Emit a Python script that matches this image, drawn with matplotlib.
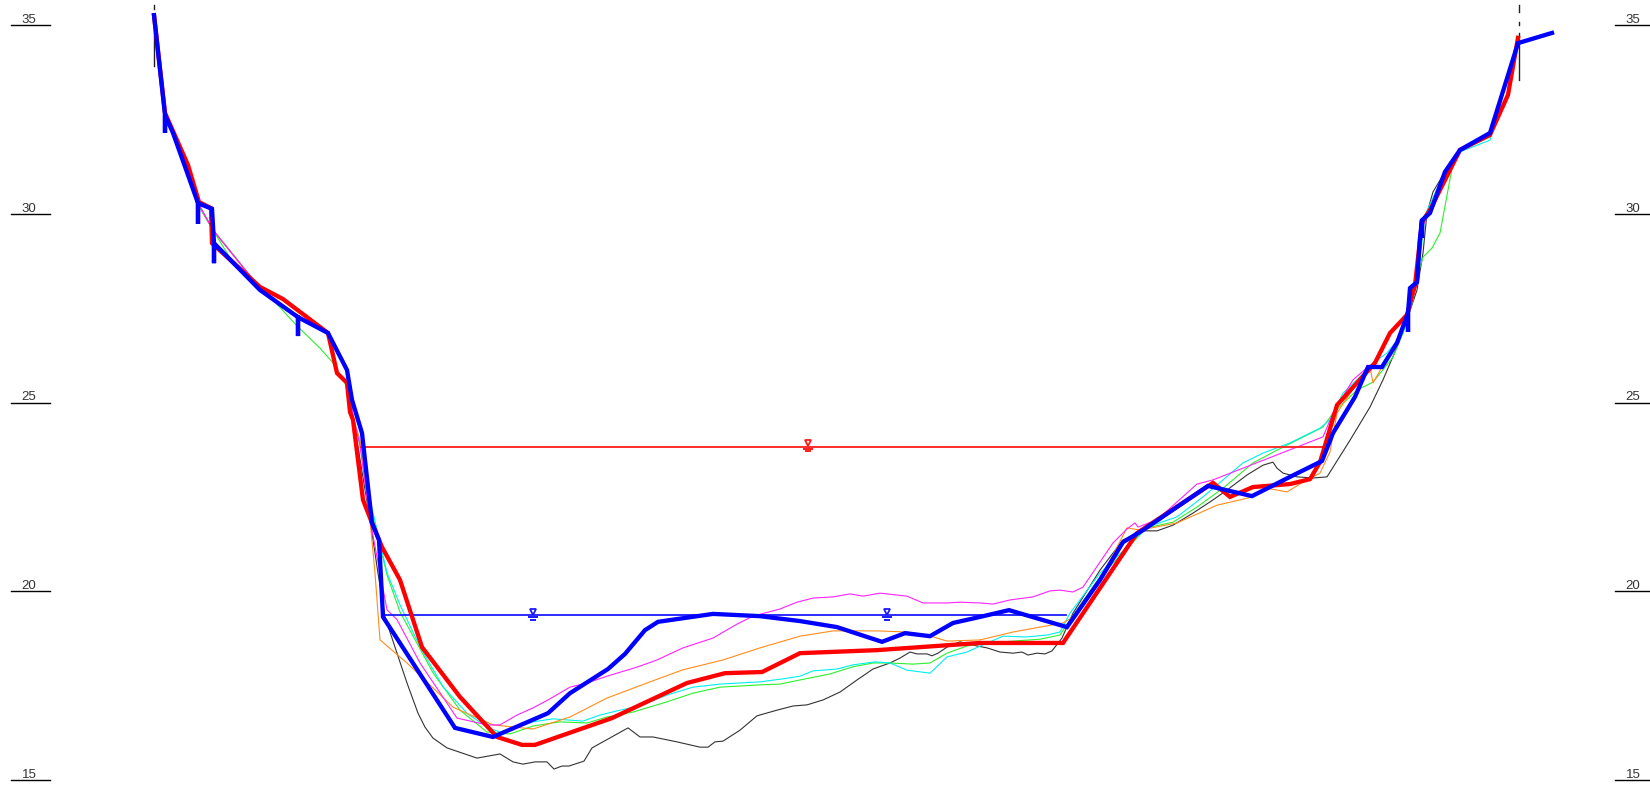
import matplotlib
matplotlib.use('Agg')
import matplotlib.pyplot as plt
import matplotlib.transforms as mtransforms

# ---------------- data (distance [m], elevation [m]) ----------------
bank_left_x = [0.4, 1.5, 4.8, 6.3, 11.0, 14.8, 17.8, 19.7, 20.3]
bank_left_z = [35.26, 32.67, 30.28, 29.57, 28.03, 27.24, 26.84, 25.81, 24.62]

black_x = [22.0, 22.8, 23.5, 24.7, 25.7, 26.8, 27.5, 28.3, 29.7, 32.7,
           35.0, 36.3, 37.3, 38.5, 39.7, 40.4, 41.2, 41.9, 43.4, 44.2,
           47.8, 49.0, 50.3, 52.7, 55.0, 55.8, 56.5, 57.3, 59.0, 60.7,
           62.7, 64.3, 65.7, 67.3, 69.0, 70.7, 72.3, 74.0, 75.0, 76.0,
           76.7, 77.7, 78.2, 78.8, 79.7, 81.0, 82.7, 83.7, 85.0, 86.3,
           87.2, 87.8, 88.7, 89.5, 90.2, 91.2, 92.3, 95.0, 97.3, 99.3,
           100.7, 102.3, 104.3, 106.3, 107.7, 109.7, 111.3, 112.3, 112.7, 113.3,
           114.7, 116.3, 117.7, 120.0, 122.0, 123.3, 124.7, 125.7, 126.7, 127.3,
           127.7, 128.3, 129.5, 131.0, 134.0, 136.8]
black_z = [21.89, 20.48, 19.32, 18.36, 17.57, 16.77, 16.40, 16.11, 15.85, 15.58,
           15.69, 15.48, 15.42, 15.48, 15.48, 15.29, 15.37, 15.37, 15.50, 15.85,
           16.38, 16.14, 16.14, 16.01, 15.87, 15.87, 16.01, 16.03, 16.32, 16.70,
           16.85, 16.96, 16.99, 17.12, 17.33, 17.65, 17.94, 18.10, 18.23, 18.39,
           18.34, 18.34, 18.29, 18.36, 18.52, 18.66, 18.55, 18.50, 18.39, 18.36,
           18.39, 18.31, 18.36, 18.34, 18.42, 18.76, 19.42, 20.56, 21.36, 21.60,
           21.60, 21.75, 22.07, 22.42, 22.68, 23.08, 23.34, 23.42, 23.26, 23.13,
           23.03, 23.00, 23.03, 24.00, 24.88, 25.60, 26.47, 27.19, 27.98, 28.96,
           30.02, 30.58, 31.11, 31.69, 32.09, 34.60]

green_x = [0.4, 1.5, 4.8, 6.3, 8.3, 11.0, 14.7, 17.0, 18.3, 19.5,
           20.3, 21.0, 22.0, 23.7, 25.0, 28.3, 31.0, 33.7, 36.0, 38.3,
           41.0, 43.7, 45.7, 48.3, 51.7, 54.3, 57.0, 61.0, 63.0, 65.0,
           68.0, 70.3, 72.3, 74.0, 76.3, 78.0, 79.7, 81.7, 83.7, 86.3,
           89.0, 91.0, 92.0, 95.0, 98.0, 99.7, 102.3, 104.7, 107.3, 110.3,
           113.3, 117.3, 118.3, 120.7, 122.3, 124.3, 125.3, 126.3, 127.0, 127.3,
           128.2, 129.0, 130.3, 131.0, 134.0, 136.8]
green_z = [35.26, 32.67, 30.23, 29.57, 28.70, 28.09, 27.03, 26.44, 26.05, 25.52,
           24.62, 23.87, 22.34, 20.43, 19.45, 17.84, 16.85, 16.27, 16.22, 16.43,
           16.54, 16.51, 16.67, 16.80, 17.07, 17.30, 17.46, 17.52, 17.54, 17.65,
           17.81, 18.00, 18.10, 18.10, 18.07, 18.10, 18.36, 18.55, 18.63, 18.68,
           18.73, 18.84, 19.24, 20.38, 21.22, 21.68, 21.83, 22.23, 22.73, 23.40,
           23.82, 24.35, 24.72, 25.33, 25.54, 26.20, 26.84, 27.90, 28.59, 28.85,
           29.09, 29.49, 31.34, 31.69, 32.03, 34.60]

cyan_x = [21.0, 22.0, 23.7, 25.0, 27.0, 29.3, 31.7, 33.7, 35.0, 36.7,
          38.3, 40.3, 43.3, 45.0, 47.0, 49.0, 51.7, 54.3, 57.0, 61.0,
          63.3, 65.0, 66.3, 68.7, 70.3, 72.5, 74.0, 75.7, 78.0, 79.7,
          81.7, 83.3, 85.3, 87.7, 89.7, 91.0, 92.0, 95.0, 97.7, 99.7,
          102.7, 105.3, 109.3, 111.3, 114.0, 117.0, 118.0, 119.3, 121.0, 122.3,
          123.7, 125.3, 126.3, 127.0, 127.5, 129.5, 131.0, 134.0, 136.8]
cyan_z = [23.93, 22.42, 20.49, 19.64, 18.53, 17.47, 16.77, 16.40, 16.27, 16.40,
          16.54, 16.62, 16.56, 16.72, 16.85, 16.96, 17.25, 17.46, 17.54, 17.60,
          17.68, 17.75, 17.89, 17.94, 18.05, 18.13, 18.10, 17.91, 17.83, 18.26,
          18.39, 18.58, 18.81, 18.79, 18.84, 18.92, 19.42, 20.48, 21.17, 21.70,
          21.97, 22.50, 23.40, 23.66, 23.93, 24.32, 24.54, 25.25, 25.68, 26.05,
          26.31, 26.84, 27.71, 28.77, 29.97, 31.11, 31.64, 31.95, 34.60]

orange_x = [21.0, 22.0, 22.5, 23.0, 25.7, 30.3, 34.3, 38.3, 42.0, 45.7,
            49.7, 53.3, 57.3, 61.0, 65.0, 68.3, 72.7, 75.7, 77.7, 79.7,
            83.0, 86.3, 89.0, 91.3, 92.3, 95.0, 97.7, 99.0, 102.7, 106.7,
            110.3, 111.7, 113.7, 115.3, 117.0, 118.0, 118.7, 120.7, 122.0, 122.3,
            123.2, 124.7, 125.8, 126.7, 127.3, 128.0, 129.5, 131.0, 134.0, 136.8]
orange_z = [24.01, 21.89, 20.48, 18.71, 18.10, 16.93, 16.46, 16.35, 16.67, 17.17,
            17.57, 17.92, 18.18, 18.50, 18.81, 18.95, 18.95, 18.92, 18.84, 18.68,
            18.71, 18.92, 19.05, 19.16, 19.32, 20.30, 21.68, 21.62, 21.81, 22.28,
            22.50, 22.73, 22.63, 22.89, 23.13, 23.69, 24.72, 25.52, 25.94, 25.52,
            25.94, 26.58, 27.37, 28.17, 29.70, 30.05, 31.11, 31.69, 32.09, 34.60]

magenta_x = [21.0, 22.0, 23.7, 24.7, 27.0, 30.7, 33.7, 35.0, 36.7, 38.3,
             39.8, 42.0, 43.7, 45.7, 48.7, 50.7, 53.3, 56.3, 58.7, 60.3,
             63.0, 64.7, 66.3, 68.3, 70.0, 71.3, 73.0, 75.7, 77.3, 79.7,
             81.0, 83.0, 84.3, 86.0, 88.3, 90.0, 91.0, 92.3, 93.3, 96.3,
             97.7, 98.5, 98.8, 100.7, 104.7, 106.3, 117.3, 118.3, 120.3, 122.0,
             123.2, 124.7, 125.8, 126.7, 127.3, 128.0, 129.5, 131.0, 134.0, 136.8]
magenta_z = [23.87, 21.89, 19.51, 19.25, 18.10, 16.64, 16.46, 16.46, 16.72, 16.91,
             17.12, 17.46, 17.57, 17.75, 17.99, 18.18, 18.50, 18.76, 19.13, 19.34,
             19.53, 19.71, 19.82, 19.85, 19.93, 19.87, 19.95, 19.87, 19.69, 19.69,
             19.71, 19.69, 19.66, 19.77, 19.85, 20.01, 20.03, 19.98, 20.11, 21.28,
             21.65, 21.81, 21.70, 21.89, 22.84, 22.95, 24.09, 24.72, 25.60, 25.99,
             25.94, 26.58, 27.37, 28.17, 29.70, 30.05, 31.11, 31.69, 32.09, 34.60]

red_x = [0.4, 1.5, 3.8, 4.9, 6.1, 6.2, 11.0, 13.3, 17.8, 18.7,
         19.7, 20.0, 20.3, 21.3, 22.2, 23.2, 25.0, 27.2, 31.0, 34.7,
         37.2, 38.5, 46.2, 53.7, 57.5, 61.2, 65.0, 72.7, 77.0, 83.0,
         91.3, 98.7, 106.3, 108.0, 110.3, 114.0, 116.0, 117.0, 118.7, 122.5,
         124.0, 125.7, 126.5, 127.2, 128.0, 131.0, 134.0, 135.8, 136.8]
red_z = [35.26, 32.67, 31.29, 30.31, 30.15, 29.22, 28.06, 27.74, 26.84, 25.78,
         25.52, 24.75, 24.54, 22.42, 21.81, 21.17, 20.30, 18.52, 17.20, 16.14,
         15.93, 15.93, 16.64, 17.57, 17.83, 17.86, 18.36, 18.44, 18.52, 18.63,
         18.63, 21.54, 22.87, 22.50, 22.76, 22.84, 22.97, 23.42, 24.93, 26.05,
         26.84, 27.32, 28.11, 29.78, 30.10, 31.69, 32.09, 33.15, 34.66]

blue_x = [0.4, 1.5, 1.5, 1.5, 2.3, 4.8, 4.8, 4.8, 6.2, 6.4,
          6.4, 6.4, 11.0, 14.8, 14.8, 14.8, 17.8, 19.7, 20.2, 21.2,
          22.2, 22.9, 23.3, 30.5, 34.3, 39.8, 42.0, 45.8, 47.5, 49.5,
          50.8, 56.3, 61.0, 65.0, 68.7, 73.2, 75.5, 78.0, 80.3, 83.0,
          85.9, 91.7, 95.0, 97.3, 99.3, 105.8, 110.2, 114.0, 117.2, 118.3,
          120.5, 121.8, 123.2, 124.7, 125.8, 125.8, 125.8, 126.0, 126.7, 127.0,
          127.2, 127.2, 127.2, 128.0, 129.5, 131.0, 134.0, 136.8, 140.2]
blue_z = [35.26, 32.62, 32.14, 32.62, 32.14, 30.28, 29.73, 30.28, 30.13, 29.22,
          28.69, 29.22, 27.98, 27.26, 26.76, 27.26, 26.84, 25.86, 25.07, 24.19,
          21.81, 21.36, 19.32, 16.38, 16.14, 16.77, 17.30, 17.94, 18.34, 18.97,
          19.19, 19.40, 19.34, 19.21, 19.05, 18.66, 18.89, 18.81, 19.16, 19.32,
          19.50, 19.05, 20.30, 21.30, 21.62, 22.79, 22.52, 23.03, 23.45, 24.19,
          25.15, 25.94, 25.94, 26.58, 27.37, 26.87, 27.37, 28.03, 28.19, 29.36,
          29.83, 29.36, 29.83, 30.02, 31.11, 31.69, 32.14, 34.52, 34.79]

# water levels
wl_red_z = 23.83
wl_red_x = [21.1, 117.7]
wl_red_marks = [65.8]
wl_blue_z = 19.37
wl_blue_x = [23.3, 91.6]
wl_blue_marks = [38.3, 73.7]

# bank marker posts: x, list of (top, bottom) dash segments
post_left_x = 0.4
post_left_segs = [(35.53, 35.42), (34.79, 33.91)]
post_right_x = 136.9
post_right_segs = [(35.53, 35.34), (35.08, 35.00), (34.79, 33.54)]

yticks = [15, 20, 25, 30, 35]

# ---------------- figure ----------------
W, H = 1650, 785
fig = plt.figure(figsize=(W / 100, H / 100), dpi=100)
ax = fig.add_axes([0, 0, 1, 1])
ax.set_xlim(-15.0, 150.0)
ax.set_ylim(35 - (H - 25) / 37.75, 35 + 25 / 37.75)
ax.axis('off')

thin = 0.8
ax.plot(bank_left_x + black_x, bank_left_z + black_z, color='#333333', lw=thin, zorder=2)
ax.plot(green_x, green_z, color='#2CF02C', lw=thin, zorder=2)
ax.plot(bank_left_x + cyan_x, bank_left_z + cyan_z, color='#00F0F0', lw=thin, zorder=2)
ax.plot(bank_left_x + orange_x, bank_left_z + orange_z, color='#FF8C1A', lw=thin, zorder=2)
ax.plot(bank_left_x + magenta_x, bank_left_z + magenta_z, color='#FF22FF', lw=thin, zorder=2)

# bank posts
for px_, segs in ((post_left_x, post_left_segs), (post_right_x, post_right_segs)):
    for top, bot in segs:
        ax.plot([px_, px_], [top, bot], color='#222222', lw=1.0, zorder=2)

# water levels
def water_mark(xm, z, color):
    base = ax.transData
    tri = mtransforms.offset_copy(base, fig=fig, x=0, y=3.2, units='dots')
    l1 = mtransforms.offset_copy(base, fig=fig, x=0, y=-2.0, units='dots')
    l2 = mtransforms.offset_copy(base, fig=fig, x=0, y=-4.6, units='dots')
    ax.plot([xm], [z], marker='v', ms=5.0, mfc='none', mec=color, mew=1.3,
            transform=tri, zorder=4)
    ax.plot([xm], [z], marker='_', ms=7.5, mec=color, mew=1.4, transform=l1, zorder=4)
    ax.plot([xm], [z], marker='_', ms=3.8, mec=color, mew=1.4, transform=l2, zorder=4)

ax.plot(wl_red_x, [wl_red_z] * 2, color='#FF1A1A', lw=1.3, zorder=3)
for xm in wl_red_marks:
    water_mark(xm, wl_red_z, '#FF1A1A')
ax.plot(wl_blue_x, [wl_blue_z] * 2, color='#1A1AFF', lw=1.3, zorder=3)
for xm in wl_blue_marks:
    water_mark(xm, wl_blue_z, '#1A1AFF')

# thick profiles
ax.plot(red_x, red_z, color='#FF0000', lw=3.1, zorder=5, solid_joinstyle='miter')
ax.plot(blue_x, blue_z, color='#0000FF', lw=3.1, zorder=6, solid_joinstyle='miter')

# elevation scale on both sides
bt = mtransforms.blended_transform_factory(ax.transAxes, ax.transData)
txt_t = mtransforms.offset_copy(bt, fig=fig, x=0, y=2.0, units='dots')
fam = ['Liberation Sans Narrow', 'Liberation Sans', 'DejaVu Sans']
for v in yticks:
    ax.plot([11 / W, 50 / W], [v, v], transform=bt, color='black', lw=1.0,
            clip_on=False, zorder=7)
    ax.plot([1615 / W, 1.0], [v, v], transform=bt, color='black', lw=1.0,
            clip_on=False, zorder=7)
    ax.text(29 / W, v, str(v), transform=txt_t, ha='center', va='baseline',
            fontsize=9.5, color='#333333', family=fam)
    ax.text(1633 / W, v, str(v), transform=txt_t, ha='center', va='baseline',
            fontsize=9.5, color='#333333', family=fam)

fig.savefig('out.png', dpi=100)
